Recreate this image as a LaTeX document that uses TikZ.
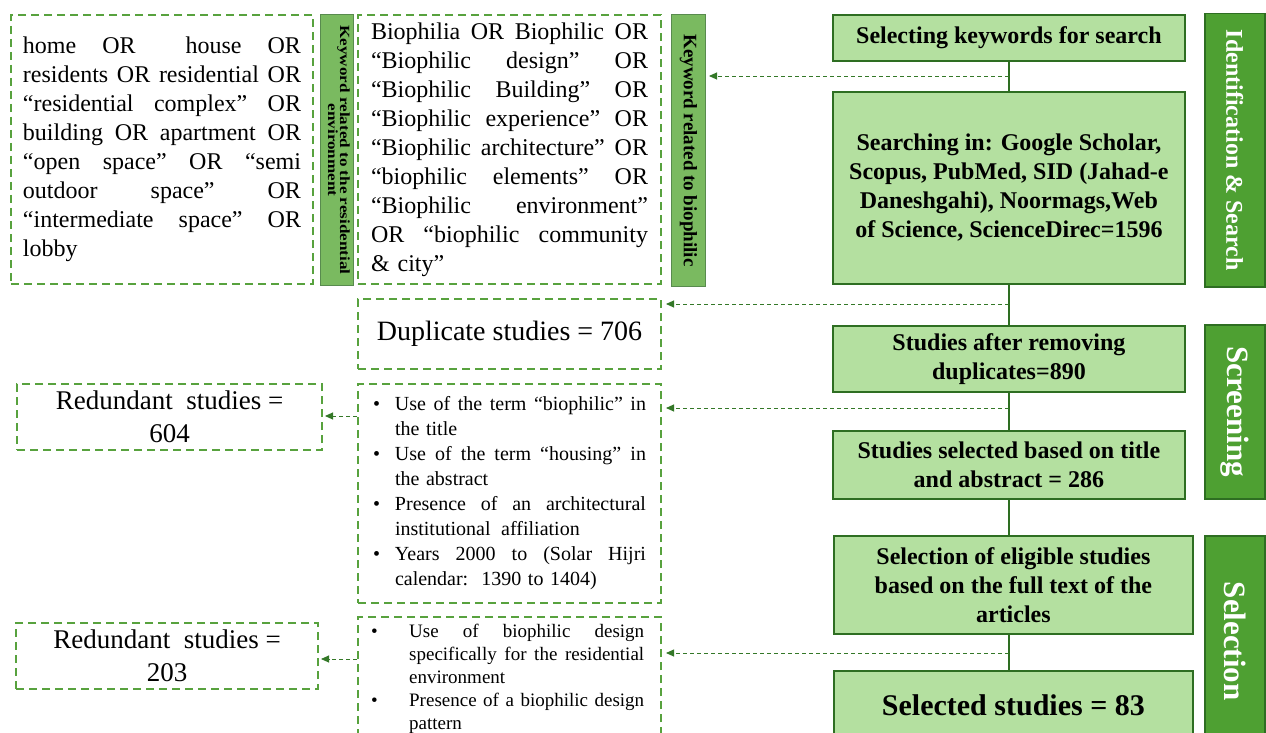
\documentclass[tikz,border=0pt]{standalone}
\usepackage{fontspec}
\setmainfont{Liberation Serif}
\usetikzlibrary{arrows.meta}
\definecolor{dgreen}{RGB}{46,110,34}
\definecolor{dashg}{RGB}{88,162,62}
\definecolor{arrg}{RGB}{52,120,40}
\definecolor{lfill}{RGB}{180,224,160}
\definecolor{sidefill}{RGB}{78,160,50}
\definecolor{barfill}{RGB}{122,186,96}
\newcommand{\jl}[2]{{\spaceskip=0pt\xspaceskip=0pt\makebox[#1][s]{#2}}}
\tikzset{
  dbox/.style={draw=dashg, line width=2pt, dash pattern=on 8pt off 5pt, inner sep=0pt, anchor=north west},
  gbox/.style={draw=dgreen, line width=1.8pt, fill=lfill, inner sep=0pt, anchor=north west, align=center,
    font=\fontsize{24}{29}\selectfont\bfseries},
  sidebar/.style={draw=dgreen, line width=1.5pt, fill=sidefill, inner sep=0pt, anchor=north west},
  labbar/.style={draw=dgreen!80!white, line width=1pt, fill=barfill, inner sep=0pt, anchor=north west},
  sidetext/.style={rotate=-90, text=white, font=\fontsize{31}{33}\selectfont\bfseries, inner sep=0pt},
  conn/.style={draw=dgreen, line width=1.6pt},
  darr/.style={draw=arrg, line width=0.9pt, dash pattern=on 4pt off 3pt, -{Triangle[length=8pt,width=7pt]}},
}
\begin{document}
\begin{tikzpicture}[x=1pt,y=-1pt]
\useasboundingbox (0,0) rectangle (1266,733);
\fill[white] (0,0) rectangle (1266,733);
\clip (0,0) rectangle (1266,733);

% keyword boxes
\node[dbox, minimum width=302pt, minimum height=269pt, text width=278pt, inner xsep=12pt, align=left,
  font=\fontsize{24}{29}\selectfont] (kwres) at (10,14) {%
\jl{278pt}{home OR \quad house OR}\\
\jl{278pt}{residents OR residential OR}\\
\jl{278pt}{“residential complex” OR}\\
\jl{278pt}{building OR apartment OR}\\
\jl{278pt}{“open space” OR “semi}\\
\jl{278pt}{outdoor space” OR}\\
\jl{278pt}{“intermediate space” OR}\\
lobby};

\node[labbar, minimum width=33pt, minimum height=271pt] (bar1) at (320,14) {};
\node[rotate=-90, inner sep=0pt, align=center, font=\fontsize{14}{14}\selectfont\bfseries] (bar1text) at (bar1.center)
  {\scalebox{1.22}[1]{\begin{tabular}{@{}c@{}}Keyword related to the residential\\[-2pt] environment\end{tabular}}};

\node[dbox, minimum width=303pt, minimum height=269pt, text width=277pt, inner xsep=13pt, align=left,
  font=\fontsize{24}{29}\selectfont] (kwbio) at (357,14) {%
\jl{277pt}{Biophilia OR Biophilic OR}\\
\jl{277pt}{“Biophilic design” OR}\\
\jl{277pt}{“Biophilic Building” OR}\\
\jl{277pt}{“Biophilic experience” OR}\\
\jl{277pt}{“Biophilic architecture” OR}\\
\jl{277pt}{“biophilic elements” OR}\\
\jl{277pt}{“Biophilic environment”}\\
\jl{277pt}{OR “biophilic community}\\
\& city”};

\node[labbar, minimum width=34pt, minimum height=272pt] (bar2) at (671,14) {};
\node[rotate=-90, inner sep=0pt, font=\fontsize{19}{20}\selectfont\bfseries] (bar2text) at (bar2.center)
  {Keyword related to biophilic};

% excluded boxes
\node[dbox, minimum width=303pt, minimum height=70pt, font=\fontsize{28}{30}\selectfont] (dup) at (357,298)
  {Duplicate studies = 706};

\node[dbox, minimum width=303pt, minimum height=219pt, text width=273pt, inner xsep=15pt, align=left,
  font=\fontsize{20}{25}\selectfont] (bul1) at (357,383) {%
\makebox[22pt][l]{\textbullet}\jl{251pt}{Use of the term “biophilic” in}\\
\hspace*{22pt}the title\\
\makebox[22pt][l]{\textbullet}\jl{251pt}{Use of the term “housing” in}\\
\hspace*{22pt}the abstract\\
\makebox[22pt][l]{\textbullet}\jl{251pt}{Presence of an architectural}\\
\hspace*{22pt}institutional\hspace{4pt} affiliation\\
\makebox[22pt][l]{\textbullet}\jl{251pt}{Years 2000 to (Solar Hijri}\\
\hspace*{22pt}calendar:\hspace{3pt} 1390 to 1404)};

\node[dbox, minimum width=303pt, minimum height=140pt] (bul2) at (357,616) {};
\node[anchor=north west, inner sep=0pt, align=left, font=\fontsize{19}{23}\selectfont] (bul2text) at (369,624) {%
\makebox[40pt][l]{\hspace*{2pt}\textbullet}\jl{235pt}{Use of biophilic design}\\
\hspace*{40pt}\jl{235pt}{specifically for the residential}\\
\hspace*{40pt}environment\\
\makebox[40pt][l]{\hspace*{2pt}\textbullet}\jl{235pt}{Presence of a biophilic design}\\
\hspace*{40pt}pattern};

\node[dbox, minimum width=305pt, minimum height=66pt, align=center, font=\fontsize{27}{33}\selectfont] (red1) at (16,383)
  {Redundant \ studies =\\604};
\node[dbox, minimum width=302pt, minimum height=66pt, align=center, font=\fontsize{27}{33}\selectfont] (red2) at (15,622)
  {Redundant \ studies =\\203};

% main flow
\node[gbox, minimum width=352pt, minimum height=46pt] (b1) at (832,14) {Selecting keywords for search};
\node[gbox, minimum width=352pt, minimum height=192pt] (b2) at (832,91)
  {Searching in: Google Scholar,\\Scopus, PubMed, SID (Jahad-e\\Daneshgahi), Noormags,Web\\of Science, ScienceDirec=1596};
\node[gbox, minimum width=352pt, minimum height=66pt] (b3) at (832,325) {Studies after removing\\duplicates=890};
\node[gbox, minimum width=352pt, minimum height=68pt] (b4) at (832,430) {Studies selected based on title\\and abstract = 286};
\node[gbox, minimum width=359pt, minimum height=98pt] (b5) at (833,535)
  {Selection of eligible studies\\based on the full text of the\\articles};
\node[gbox, minimum width=359pt, minimum height=69pt, font=\fontsize{30}{32}\selectfont\bfseries] (b6) at (833,670)
  {Selected studies = 83};

% side bars
\node[sidebar, minimum width=60pt, minimum height=273pt] (s1) at (1204,13) {};
\node[sidetext, font=\fontsize{24}{26}\selectfont\bfseries] (s1text) at (s1.center) {Identification \& Search};
\node[sidebar, minimum width=60pt, minimum height=174pt] (s2) at (1204,324) {};
\node[sidetext] (s2text) at (s2.center) {Screening};
\node[sidebar, minimum width=60pt, minimum height=205pt] (s3) at (1204,535) {};
\node[sidetext] (s3text) at ([yshift=-3pt]s3.center) {Selection};

% connectors
\draw[conn] (b1.south) -- (b2.north);
\draw[conn] (b2.south) -- (b3.north);
\draw[conn] (b3.south) -- (b4.north);
\draw[conn] (b4.south) -- (b4.south |- b5.north);
\draw[conn] (b4.south |- b5.south) -- (b4.south |- b6.north);

\coordinate (yk) at (0,76);
\coordinate (yd) at (0,304);
\coordinate (ys) at (0,408);
\coordinate (yf) at (0,653);
\coordinate (yr1) at (0,416);
\coordinate (yr2) at (0,659);
\draw[darr, shorten >=3pt] (b1.south |- yk) -- (bar2.east |- yk);
\draw[darr, shorten >=4pt] (b2.south |- yd) -- (dup.east |- yd);
\draw[darr, shorten >=4pt] (b3.south |- ys) -- (bul1.east |- ys);
\draw[darr, shorten >=4pt] (b4.south |- yf) -- (bul2.east |- yf);
\draw[darr, shorten >=2pt] (bul1.west |- yr1) -- (red1.east |- yr1);
\draw[darr, shorten >=2pt] (bul2.west |- yr2) -- (red2.east |- yr2);
\end{tikzpicture}
\end{document}
